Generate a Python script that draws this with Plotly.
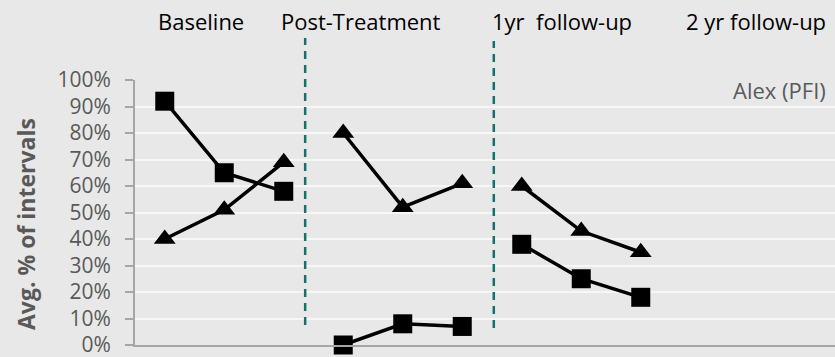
import plotly.graph_objects as go

# ---- data ----
phases = ["Baseline", "Post-Treatment", "1yr  follow-up", "2 yr follow-up"]
sessions_per_phase = 3
square_values = {
    "Baseline": [92, 65, 58],
    "Post-Treatment": [0, 8, 7],
    "1yr  follow-up": [38, 25, 18],
}
triangle_values = {
    "Baseline": [40, 51, 69],
    "Post-Treatment": [80, 52, 61],
    "1yr  follow-up": [60, 43, 35],
}
y_ticks = [0, 10, 20, 30, 40, 50, 60, 70, 80, 90, 100]
y_tick_labels = [f"{v}%" for v in y_ticks]
phase_dividers = [2.36, 5.53]
chart_label = "Alex (PFI)"
y_title = "Avg. % of intervals"

W, H = 835, 357
ML, MR, MT, MB = 135, 0, 80, 12
BG = "#e8e8e8"
GRAY_TEXT = "#595959"
FONT = "Open Sans"

fig = go.Figure()

for i, ph in enumerate(phases):
    if ph not in square_values:
        continue
    xs = [i * sessions_per_phase + k for k in range(sessions_per_phase)]
    fig.add_trace(go.Scatter(
        x=xs, y=square_values[ph], mode="lines+markers",
        line=dict(color="black", width=3.5),
        marker=dict(symbol="square", size=19, color="black"),
        cliponaxis=False, showlegend=False, hoverinfo="skip"))
    fig.add_trace(go.Scatter(
        x=xs, y=triangle_values[ph], mode="lines+markers",
        line=dict(color="black", width=3.5),
        marker=dict(symbol="triangle-up", size=19, color="black"),
        cliponaxis=False, showlegend=False, hoverinfo="skip"))

plot_h = H - MT - MB
plot_w = W - ML - MR
def py_to_paper(py):
    return (H - MB - py) / plot_h
def px_to_paper(px):
    return (px - ML) / plot_w

for xd, (top, bot) in zip(phase_dividers, [(38, 325), (41, 328)]):
    fig.add_shape(type="line", xref="x", yref="paper",
                  x0=xd, x1=xd, y0=py_to_paper(bot), y1=py_to_paper(top),
                  line=dict(color="#17706f", width=2.5, dash="8px,6px"))

slot_px = 59.5
x_max = -0.5 + plot_w / slot_px

# phase labels
label_px = [201, 361, 562, 756]
for ph, px in zip(phases, label_px):
    fig.add_annotation(text=ph, xref="paper", yref="paper",
                       x=px_to_paper(px), y=py_to_paper(21),
                       xanchor="center", yanchor="middle", showarrow=False,
                       font=dict(family=FONT, size=22, color="black"))

fig.add_annotation(text=chart_label, xref="paper", yref="paper",
                   x=px_to_paper(828), y=py_to_paper(90),
                   xanchor="right", yanchor="middle", showarrow=False,
                   font=dict(family=FONT, size=22, color=GRAY_TEXT))

fig.add_annotation(text=f"<b>{y_title}</b>", xref="paper", yref="paper",
                   x=px_to_paper(26), y=py_to_paper(224),
                   xanchor="center", yanchor="middle", showarrow=False,
                   textangle=-90,
                   font=dict(family=FONT, size=23, color=GRAY_TEXT))

fig.update_layout(
    width=W, height=H,
    margin=dict(l=ML, r=MR, t=MT, b=MB, pad=0, autoexpand=False),
    paper_bgcolor=BG, plot_bgcolor=BG,
    font=dict(family=FONT),
    xaxis=dict(range=[-0.5, x_max], showgrid=False, zeroline=False,
               showticklabels=False, ticks="", showline=True,
               linecolor="#a6a6a6", linewidth=2, automargin=False),
    yaxis=dict(range=[0, 100], tickvals=y_ticks, ticktext=y_tick_labels,
               showgrid=True, gridcolor="#f7f7f7", gridwidth=2,
               zeroline=False, showline=True, linecolor="#a6a6a6",
               linewidth=2, ticks="outside", ticklen=8, tickcolor="#a6a6a6",
               tickwidth=2, ticklabelstandoff=10, ticklabeloverflow="allow",
               automargin=False,
               tickfont=dict(family=FONT, size=21, color=GRAY_TEXT)),
)

fig.write_html("out.html", config={"displayModeBar": False},
               post_script="document.body.style.margin='0px';document.body.style.overflow='hidden';")
